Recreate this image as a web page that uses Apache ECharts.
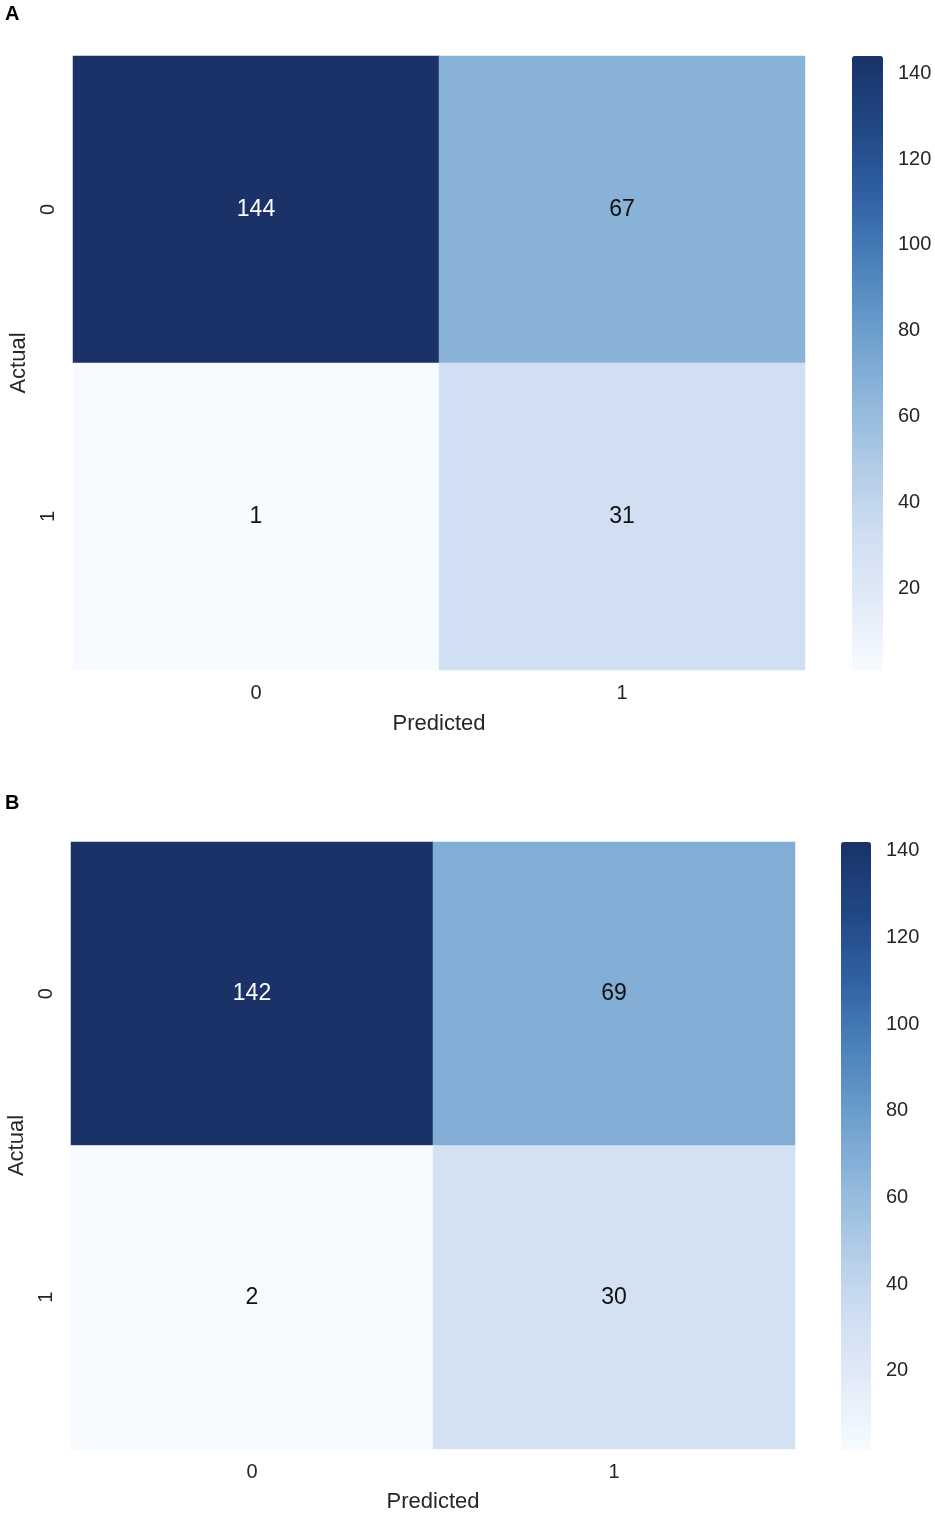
<!DOCTYPE html>
<html>
<head>
<meta charset="utf-8">
<script src="https://cdn.jsdelivr.net/npm/echarts@6/dist/echarts.min.js"></script>
<style>
html,body{margin:0;padding:0;background:#fff;}
#c{width:935px;height:1515px;}
</style>
</head>
<body>
<div id="c"></div>
<script>
// ---- data ----
const predictedLabels = ['0', '1'];
const actualLabels = ['0', '1'];
// rows = Actual, columns = Predicted
const matrixA = [[144, 67], [1, 31]];
const matrixB = [[142, 69], [2, 30]];
const colorbarTicksA = [20, 40, 60, 80, 100, 120, 140];
const colorbarTicksB = [20, 40, 60, 80, 100, 120, 140];
const panelLabels = ['A', 'B'];

const blues = ['#f7fbff','#e2ebf7','#cfdef2','#b0cbe6','#8db6da','#6a9dcb','#4a80ba','#2f5fa2','#1f4683','#1a3268'];
const FONT = 'Liberation Sans, Arial, sans-serif';
const TXT = '#262626';

function flat(m){const o=[];m.forEach(r=>r.forEach(v=>o.push(v)));return o;}
function toData(m, vmax){
  const out=[];
  m.forEach((row,yi)=>row.forEach((v,xi)=>{
    out.push({value:[xi,yi,v],label:{color: v>vmax*0.6?'#ffffff':'#111111'}});
  }));
  return out;
}

const panels = [
  {m: matrixA, ticks: colorbarTicksA, grid:{left:73,top:56,width:732,height:614}, bar:{left:852,top:56,width:31,height:614}, xGap:43, yGap:43, label:{x:5,y:4}},
  {m: matrixB, ticks: colorbarTicksB, grid:{left:71,top:842,width:724,height:607}, bar:{left:841,top:842,width:30,height:607}, xGap:42, yGap:43, label:{x:5,y:793}}
];

const gridMain=[], gridBar=[], xMain=[], xBar=[], yMain=[], yBar=[], series=[], visualMap=[], graphic=[];
panels.forEach((p,i)=>{
  const vals = flat(p.m);
  const vmin = Math.min(...vals), vmax = Math.max(...vals);
  gridMain.push(Object.assign({containLabel:false, outerBoundsMode:'none'}, p.grid));
  xMain.push({type:'category', gridIndex:i, data:predictedLabels, name:'Predicted', nameLocation:'middle', nameGap:p.xGap,
    nameTextStyle:{fontFamily:FONT,fontSize:22,color:TXT},
    axisLine:{show:false}, axisTick:{show:false}, splitLine:{show:false},
    axisLabel:{fontFamily:FONT,fontSize:20,color:TXT,margin:13}});
  yMain.push({type:'category', gridIndex:i, data:actualLabels, inverse:true, name:'Actual', nameLocation:'middle', nameGap:p.yGap, nameRotate:90,
    nameTextStyle:{fontFamily:FONT,fontSize:22,color:TXT},
    axisLine:{show:false}, axisTick:{show:false}, splitLine:{show:false},
    axisLabel:{fontFamily:FONT,fontSize:20,color:TXT,rotate:90,margin:15}});
  series.push({type:'heatmap', xAxisIndex:i, yAxisIndex:i, data:toData(p.m, vmax),
    itemStyle:{borderWidth:0},
    label:{show:true, fontFamily:FONT, fontSize:23},
    emphasis:{disabled:true}});
  visualMap.push({type:'continuous', seriesIndex:i, min:vmin, max:vmax, dimension:2,
    left:p.bar.left, top:p.bar.top, itemWidth:p.bar.width, itemHeight:p.bar.height,
    calculable:false, realtime:false, text:null, showLabel:false, padding:0,
    hoverLink:false, inRange:{color:blues}});
  // colorbar tick axis (labels only)
  gridBar.push(Object.assign({outerBoundsMode:'none'}, p.bar));
  xBar.push({type:'value', gridIndex:i+2, show:false, min:0, max:1});
  yBar.push({type:'value', gridIndex:i+2, min:vmin, max:vmax, position:'right', splitNumber:7,
    axisLine:{show:false}, axisTick:{show:false}, splitLine:{show:false},
    axisLabel:{fontFamily:FONT,fontSize:20,color:TXT,margin:15,showMinLabel:false,showMaxLabel:false,
      formatter:v=>p.ticks.includes(v)?String(v):''}});
  graphic.push({type:'text', left:p.label.x, top:p.label.y, style:{text:panelLabels[i], font:'bold 20px '+FONT, fill:'#000'}});
});

const chart = echarts.init(document.getElementById('c'), null, {renderer:'canvas'});
chart.setOption({
  backgroundColor:'#ffffff',
  animation:false,
  grid: gridMain.concat(gridBar),
  xAxis: xMain.concat(xBar),
  yAxis: yMain.concat(yBar),
  series: series,
  visualMap: visualMap,
  graphic: graphic
});
</script>
</body>
</html>
